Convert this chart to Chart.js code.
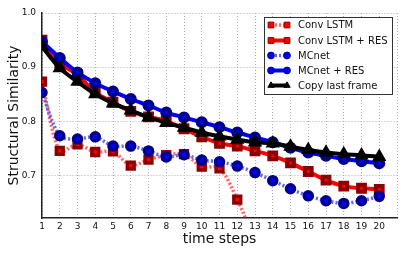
<!DOCTYPE html>
<html>
<head>
<meta charset="utf-8">
<script src="https://cdn.jsdelivr.net/npm/chart.js@4/dist/chart.umd.min.js"></script>
<style>
  html, body { margin: 0; padding: 0; background: #fff; }
  #wrap { width: 407px; height: 255px; }
</style>
</head>
<body>
<div id="wrap"><canvas id="myChart" width="407" height="255"></canvas></div>
<script>
// time steps 1..20
var steps = [1, 2, 3, 4, 5, 6, 7, 8, 9, 10, 11, 12, 13, 14, 15, 16, 17, 18, 19, 20];
var yTicks = [0.7, 0.8, 0.9, 1.0];

var convLstm    = [0.873, 0.745, 0.757, 0.743, 0.744, 0.718, 0.729, 0.737, 0.739, 0.716, 0.713, 0.655, 0.578, null, null, null, null, null, null, null];
var convLstmRes = [0.950, 0.907, 0.886, 0.853, 0.835, 0.818, 0.808, 0.800, 0.786, 0.771, 0.759, 0.754, 0.745, 0.736, 0.723, 0.707, 0.691, 0.680, 0.676, 0.674];
var mcnet       = [0.853, 0.773, 0.767, 0.771, 0.754, 0.754, 0.745, 0.734, 0.738, 0.728, 0.725, 0.717, 0.705, 0.690, 0.675, 0.662, 0.653, 0.648, 0.653, 0.661];
var mcnetRes    = [0.947, 0.917, 0.890, 0.870, 0.855, 0.841, 0.829, 0.816, 0.807, 0.798, 0.789, 0.779, 0.770, 0.761, 0.751, 0.742, 0.736, 0.730, 0.726, 0.722];
var copyLast    = [0.938, 0.898, 0.873, 0.850, 0.833, 0.820, 0.807, 0.797, 0.788, 0.779, 0.772, 0.766, 0.761, 0.759, 0.753, 0.747, 0.742, 0.739, 0.737, 0.734];

function pts(vals) {
  return steps.map(function (s, i) { return {x: s, y: vals[i]}; });
}

var FONT = "'DejaVu Sans', sans-serif";

// legend drawn by hand (boxed, inside the plot, top right)
var boxLegend = {
  id: 'boxLegend',
  afterDraw: function (chart) {
    var ctx = chart.ctx;
    ctx.save();
    ctx.fillStyle = '#fff';
    ctx.fillRect(264, 17, 129, 78);
    ctx.strokeStyle = '#333';
    ctx.lineWidth = 1;
    ctx.strokeRect(264.5, 17.5, 128, 77);

    var rows = [25, 40.5, 55.5, 70.5, 85.5];
    var x0 = 271, x1 = 287;
    chart.data.datasets.forEach(function (ds) {
      var y = rows[ds.legendRow];
      ctx.save();
      ctx.strokeStyle = ds.borderColor;
      ctx.lineWidth = ds.borderWidth;
      ctx.setLineDash(ds.borderDash || []);
      ctx.beginPath();
      ctx.moveTo(x0, y); ctx.lineTo(x1, y);
      ctx.stroke();
      ctx.setLineDash([]);
      ctx.fillStyle = ds.pointBackgroundColor;
      ctx.strokeStyle = ds.pointBorderColor;
      ctx.lineWidth = 1;
      [x0, x1].forEach(function (px) {
        Chart.helpers.drawPoint(ctx, {
          pointStyle: ds.pointStyle, radius: ds.pointRadius * 0.85, borderWidth: 1, rotation: 0
        }, px, y);
      });
      ctx.restore();
      ctx.fillStyle = '#111';
      ctx.font = '10px ' + FONT;
      ctx.textBaseline = 'middle';
      ctx.fillText(ds.label, 298, y + 0.5);
    });
    ctx.restore();
  }
};

var ctx = document.getElementById('myChart');

var myChart = new Chart(ctx, {
  type: 'line',
  data: {
    datasets: [
      {
        label: 'Copy last frame', legendRow: 4, order: 0,
        data: pts(copyLast),
        borderColor: '#000', borderWidth: 4,
        pointStyle: 'triangle', pointRadius: 4.3,
        pointBackgroundColor: '#000', pointBorderColor: '#000'
      },
      {
        label: 'MCnet + RES', legendRow: 3, order: 1,
        data: pts(mcnetRes),
        borderColor: '#0000ff', borderWidth: 4,
        pointStyle: 'circle', pointRadius: 4,
        pointBackgroundColor: '#0000ff', pointBorderColor: '#00008b'
      },
      {
        label: 'MCnet', legendRow: 2, order: 2,
        data: pts(mcnet),
        borderColor: 'rgba(0,0,255,0.6)', borderWidth: 3.5, borderDash: [2, 2],
        pointStyle: 'circle', pointRadius: 4,
        pointBackgroundColor: '#0000ff', pointBorderColor: '#00008b'
      },
      {
        label: 'Conv LSTM + RES', legendRow: 1, order: 3,
        data: pts(convLstmRes),
        borderColor: '#ff0000', borderWidth: 4,
        pointStyle: 'rect', pointRadius: 4.8,
        pointBackgroundColor: '#ff0000', pointBorderColor: '#8b0000'
      },
      {
        label: 'Conv LSTM', legendRow: 0, order: 4,
        data: pts(convLstm),
        borderColor: 'rgba(255,0,0,0.6)', borderWidth: 3.5, borderDash: [2, 2],
        pointStyle: 'rect', pointRadius: 4.8,
        pointBackgroundColor: '#ff0000', pointBorderColor: '#8b0000'
      }
    ]
  },
  options: {
    responsive: false,
    animation: false,
    layout: { padding: { left: 0, right: 10, top: 13, bottom: 0 } },
    elements: { line: { tension: 0.3 }, point: { borderWidth: 1, hoverRadius: 5 } },
    plugins: { legend: { display: false }, tooltip: { enabled: false } },
    scales: {
      x: {
        type: 'linear', min: 1, max: 21,
        grid: { color: '#b0b0b0', lineWidth: 1, drawTicks: false },
        border: { color: '#222', width: 1.5, dash: [1, 2] },
        ticks: {
          stepSize: 1, autoSkip: false, maxRotation: 0, padding: 3,
          color: '#111', font: { family: FONT, size: 9 },
          callback: function (v) { return v === 21 ? '' : v; }
        },
        title: { display: true, text: 'time steps', color: '#111',
                 font: { family: FONT, size: 14 }, padding: { top: 0, bottom: 7 } },
        afterFit: function (scale) { scale.height = 37; }
      },
      y: {
        min: 0.621, max: 1.0,
        grid: { color: '#b0b0b0', lineWidth: 1, drawTicks: false },
        border: { color: '#222', width: 1.5, dash: [1, 2] },
        afterBuildTicks: function (scale) {
          scale.ticks = yTicks.map(function (v) { return {value: v}; });
        },
        ticks: {
          padding: 6, color: '#111', font: { family: FONT, size: 9 },
          callback: function (v) { return v.toFixed(1); }
        },
        title: { display: true, text: 'Structural Similarity', color: '#111',
                 font: { family: FONT, size: 14 }, padding: { top: 6, bottom: 0 } },
        afterFit: function (scale) { scale.width = 42; }
      }
    }
  },
  plugins: [boxLegend]
});
</script>
</body>
</html>
